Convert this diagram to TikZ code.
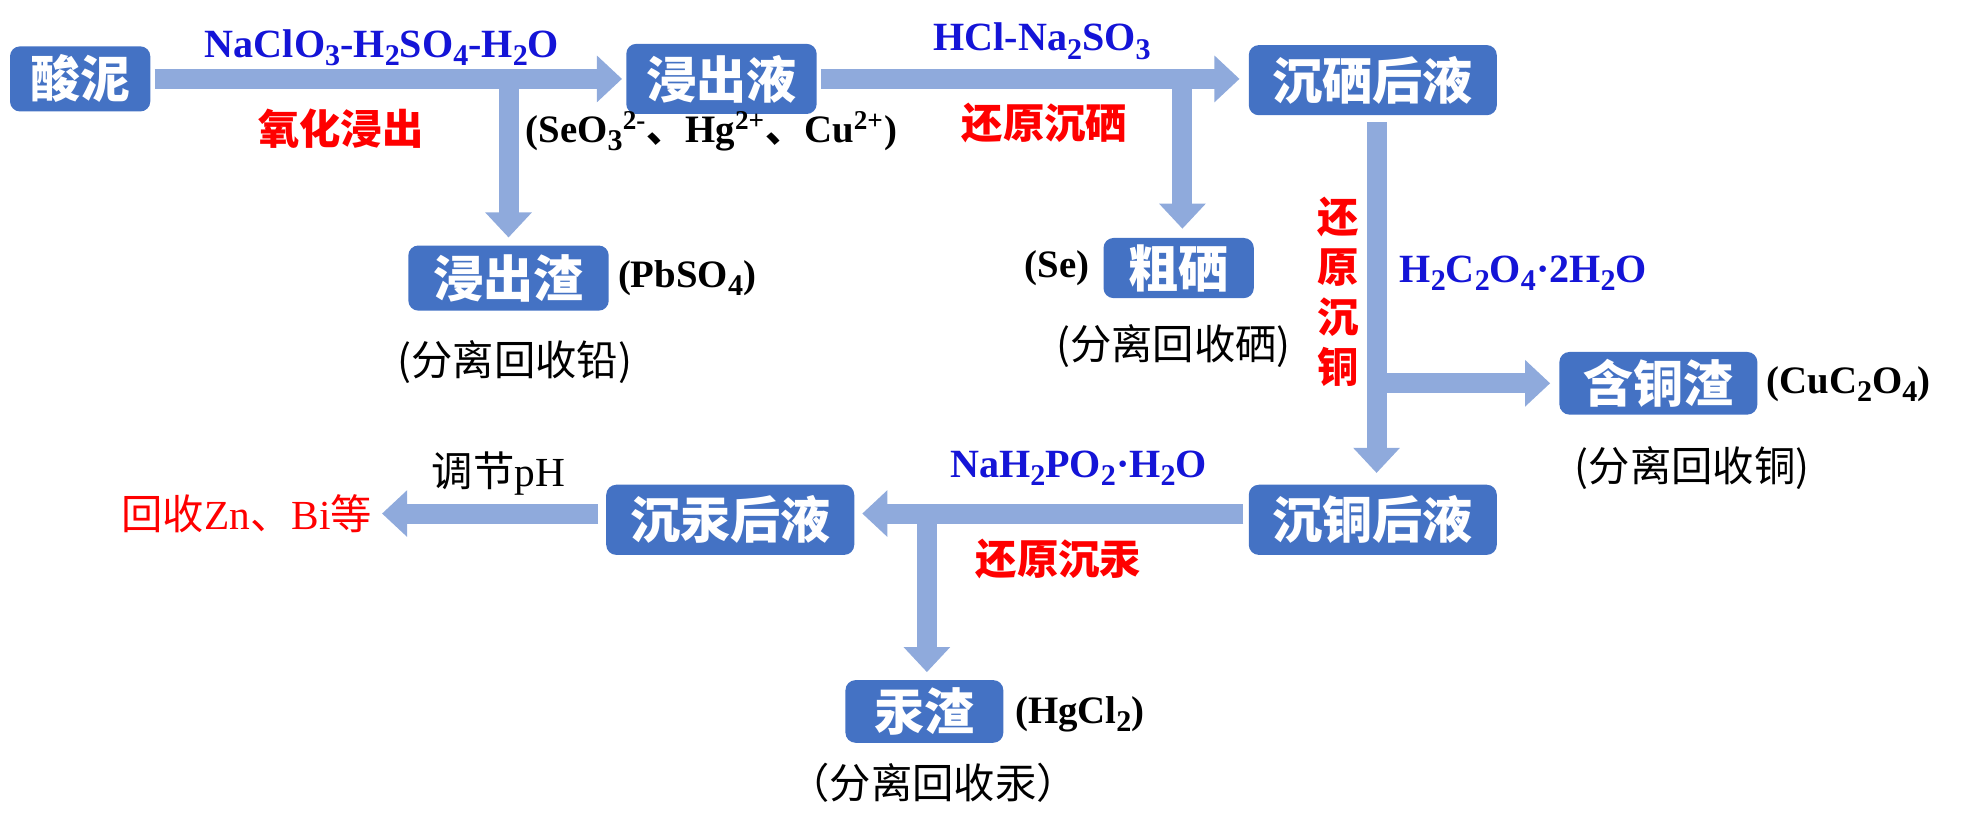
\documentclass[tikz,border=0pt]{standalone}
\usepackage{fontspec}
\setmainfont{Liberation Serif}
\newfontfamily\cjk{Noto Sans CJK SC}
\usetikzlibrary{arrows.meta}
\definecolor{boxblue}{HTML}{4472C4}
\definecolor{arrblue}{HTML}{8FAADC}
\definecolor{lblue}{RGB}{20,20,215}
\definecolor{lred}{RGB}{255,0,0}
\newcommand\mysb[1]{\raisebox{-0.45ex}{\fontsize{12}{12}\selectfont #1}}
\newcommand\mysp[1]{\textsuperscript{#1}}
\begin{document}
\begin{tikzpicture}[x=0.5pt,y=-0.5pt,
  box/.style={fill=boxblue, rounded corners=4pt, text=white, font=\cjk\bfseries\fontsize{20}{20}\selectfont, inner sep=0pt},
  arr/.style={draw=arrblue, line width=8pt, -{Triangle[width=18pt,length=10pt]}},
  chem/.style={font=\bfseries\fontsize{15.5}{15.5}\selectfont, inner sep=0pt},
  reag/.style={chem, text=lblue, font=\bfseries\fontsize{16}{16}\selectfont},
  redlab/.style={text=lred, font=\cjk\bfseries\fontsize{16.5}{20}\selectfont, inner sep=0pt, align=center},
  note/.style={font=\cjk\fontsize{16.5}{16.5}\selectfont, inner sep=0pt}]
\useasboundingbox (0,0) rectangle (1568,664);
% boxes
\node[box, minimum width=56pt, minimum height=26pt] (sn) at (64,63) {酸泥};
\node[box, minimum width=76pt, minimum height=28pt] (jcy) at (576,63) {浸出液};
\node[box, minimum width=99pt, minimum height=28pt] (cxhy) at (1096,64) {沉硒后液};
\node[box, minimum width=80pt, minimum height=26pt] (jcz) at (406,222) {浸出渣};
\node[box, minimum width=60pt, minimum height=24pt] (cx) at (941,214) {粗硒};
\node[box, minimum width=79pt, minimum height=25pt] (htz) at (1324,306) {含铜渣};
\node[box, minimum width=99pt, minimum height=28pt] (cthy) at (1096,415) {沉铜后液};
\node[box, minimum width=99pt, minimum height=28pt] (chhy) at (583,415) {沉汞后液};
\node[box, minimum width=63pt, minimum height=25pt] (gz) at (738,568) {汞渣};
% branch points
\coordinate (b1) at (406,63);
\coordinate (b2) at (944,63);
\coordinate (b3) at (1099,306);
\coordinate (b4) at (740,410);
\coordinate (zn) at (305,410);
% connectors
\draw[arr, shorten <=1.5pt, shorten >=1.5pt] (sn.east) -- (jcy.west);
\draw[arr, shorten >=3pt] (b1) -- (b1 |- jcz.north);
\draw[arr, shorten <=1.5pt, shorten >=3.5pt] (jcy.east) -- (cxhy.west |- jcy.east);
\draw[arr, shorten >=3.5pt] (b2) -- (b2 |- cx.north);
\draw[arr, shorten <=2.5pt, shorten >=4.5pt] (cxhy.south -| b3) -- (cthy.north -| b3);
\draw[arr, shorten >=3.5pt] (b3) -- (htz.west |- b3);
\draw[arr, shorten <=2pt, shorten >=3pt] (cthy.west |- b4) -- (chhy.east |- b4);
\draw[arr, shorten >=3pt] (b4) -- (b4 |- gz.north);
\draw[arr, shorten <=3pt] (chhy.west |- zn) -- (zn);
% labels
\node[reag] (l1) at (305,38) {NaClO\mysb{3}-H\mysb{2}SO\mysb{4}-H\mysb{2}O};
\node[redlab] (l2) at (272,103) {氧化浸出};
\node[chem] (l3) at (568,105) {(SeO\mysb{3}\mysp{2-}{\cjk 、}Hg\mysp{2+}{\cjk 、}Cu\mysp{2+})};
\node[reag] (l4) at (832,33) {HCl-Na\mysb{2}SO\mysb{3}};
\node[redlab] (l5) at (834,98) {还原沉硒};
\node[chem, anchor=west] (l6) at (493,222) {(PbSO\mysb{4})};
\node[note] (l7) at (411,289) {(分离回收铅)};
\node[chem, anchor=east] (l8) at (870,214) {(Se)};
\node[note] (l9) at (937,276) {(分离回收硒)};
\node[redlab] (l10) at (1068,233) {还\\原\\沉\\铜};
\node[reag, anchor=west] (l11) at (1117,218) {H\mysb{2}C\mysb{2}O\mysb{4}·2H\mysb{2}O};
\node[chem, anchor=west] (l12) at (1410,307) {(CuC\mysb{2}O\mysb{4})};
\node[note] (l13) at (1351,374) {(分离回收铜)};
\node[reag] (l14) at (861,374) {NaH\mysb{2}PO\mysb{2}·H\mysb{2}O};
\node[redlab] (l15) at (845,446) {还原沉汞};
\node[note] (l16) at (398,378) {调节\textrm{pH}};
\node[note, text=lred] (l17) at (197,410) {回收\textrm{Zn}、\textrm{Bi}等};
\node[chem, anchor=west] (l18) at (810,570) {(HgCl\mysb{2})};
\node[note] (l19) at (745,625) {（分离回收汞）};
\end{tikzpicture}
\end{document}
